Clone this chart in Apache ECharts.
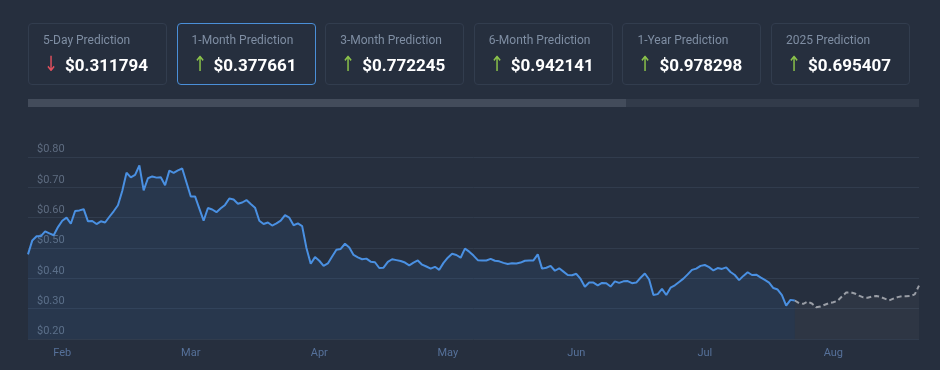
<!DOCTYPE html>
<html><head><meta charset="utf-8">
<script src="https://cdn.jsdelivr.net/npm/echarts@6/dist/echarts.min.js"></script>
<style>
html,body{margin:0;padding:0;width:940px;height:370px;background:#262f3e;overflow:hidden;font-family:Roboto,"Noto Sans",sans-serif;}
#chart{position:absolute;left:0;top:0;width:940px;height:370px;}
#cards{position:absolute;left:28px;top:23px;width:882px;height:62px;z-index:2;}
.card{position:absolute;top:0;width:139px;height:62px;box-sizing:border-box;border:1px solid #323d4e;border-radius:4px;}
.card.active{border-color:#4a8fd8;}
.card .t{position:absolute;left:14px;top:9px;font-size:12px;line-height:14px;color:#7f8ea3;white-space:nowrap;}
.card .a{position:absolute;left:15px;top:28px;font-size:21px;line-height:24px;font-family:"DejaVu Sans",sans-serif;transform:scaleX(0.8);transform-origin:left center;}
.card .a.up{color:#8bc34a;}
.card .a.down{color:#e2505e;}
.card .v{position:absolute;left:36px;top:31px;font-size:17px;line-height:20px;font-weight:700;color:#ffffff;white-space:nowrap;}
#track{position:absolute;left:28px;top:99px;width:891px;height:8px;background:#323b4a;z-index:2;}
#thumb{position:absolute;left:0;top:0;width:598px;height:8px;background:#434c5b;}
</style>
</head><body>
<div id="chart"></div>
<div id="cards"></div>
<div id="track"><div id="thumb"></div></div>
<script>
// Prediction cards
const cardTitles = ['5-Day Prediction','1-Month Prediction','3-Month Prediction','6-Month Prediction','1-Year Prediction','2025 Prediction'];
const cardValues = ['$0.311794','$0.377661','$0.772245','$0.942141','$0.978298','$0.695407'];
const cardDirections = ['down','up','up','up','up','up'];
const activeCard = 1;

// Chart data
const monthLabels = ['Feb','Mar','Apr','May','Jun','Jul','Aug'];
const actualValues = [
0.479,0.525,0.539,0.539,0.555,0.548,0.542,0.569,0.590,0.600,
0.580,0.622,0.624,0.628,0.588,0.589,0.579,0.588,0.584,0.603,
0.621,0.641,0.688,0.748,0.733,0.741,0.772,0.690,0.730,0.736,
0.732,0.733,0.707,0.755,0.748,0.756,0.762,0.716,0.670,0.670,
0.630,0.590,0.632,0.627,0.618,0.631,0.642,0.663,0.660,0.646,
0.650,0.658,0.645,0.633,0.590,0.579,0.584,0.574,0.581,0.590,
0.608,0.600,0.575,0.581,0.572,0.500,0.448,0.470,0.458,0.441,
0.449,0.472,0.494,0.497,0.514,0.502,0.477,0.469,0.463,0.465,
0.455,0.453,0.434,0.435,0.454,0.463,0.460,0.457,0.452,0.443,
0.452,0.459,0.445,0.439,0.432,0.438,0.428,0.451,0.468,0.481,
0.477,0.468,0.498,0.488,0.475,0.460,0.459,0.459,0.464,0.458,
0.456,0.451,0.447,0.450,0.449,0.452,0.458,0.459,0.459,0.479,
0.432,0.435,0.441,0.425,0.433,0.422,0.411,0.410,0.415,0.398,
0.372,0.386,0.386,0.377,0.385,0.384,0.373,0.390,0.385,0.390,
0.391,0.384,0.386,0.402,0.416,0.396,0.345,0.348,0.365,0.345,
0.369,0.377,0.388,0.399,0.413,0.428,0.432,0.441,0.444,0.437,
0.426,0.434,0.431,0.436,0.421,0.411,0.394,0.408,0.420,0.411,
0.412,0.403,0.395,0.386,0.368,0.363,0.345,0.310,0.329,0.327
];
const forecastValues = [
0.327,0.318,0.316,0.323,0.317,0.305,0.307,0.313,0.318,0.321,
0.326,0.340,0.353,0.354,0.350,0.343,0.337,0.336,0.340,0.342,
0.339,0.333,0.327,0.333,0.338,0.341,0.341,0.342,0.347,0.376
];

// build cards
const cardsEl = document.getElementById('cards');
cardTitles.forEach((t, i) => {
  const c = document.createElement('div');
  c.className = 'card' + (i === activeCard ? ' active' : '');
  c.style.left = (i * 148.6) + 'px';
  const dir = cardDirections[i];
  c.innerHTML = '<div class="t">' + t + '</div>' +
    '<div class="a ' + dir + '">' + (dir === 'up' ? '\u2191' : '\u2193') + '</div>' +
    '<div class="v">' + cardValues[i] + '</div>';
  cardsEl.appendChild(c);
});

// categories (daily)
const totalPoints = actualValues.length + forecastValues.length - 1;
const categories = [];
const startDate = new Date(Date.UTC(2024, 0, 24));
for (let i = 0; i < totalPoints; i++) {
  const d = new Date(startDate.getTime() + i * 86400000);
  categories.push(d.toISOString().slice(0, 10));
}
const firstLabelIdx = 8, labelStep = 30;
const forecastStart = actualValues.length - 1;
const forecastData = forecastValues.map((v, k) => [forecastStart + k, v]);

const chart = echarts.init(document.getElementById('chart'), null, {renderer: 'canvas'});
chart.setOption({
  backgroundColor: 'transparent',
  animation: false,
  grid: {left: 28, right: 21, top: 157, bottom: 31},
  xAxis: {
    type: 'category',
    data: categories,
    boundaryGap: false,
    axisLine: {show: false},
    axisTick: {show: false},
    splitLine: {show: false},
    axisLabel: {
      interval: (i) => i >= firstLabelIdx && (i - firstLabelIdx) % labelStep === 0,
      formatter: (val, idx) => monthLabels[Math.round((idx - firstLabelIdx) / labelStep)] || '',
      color: '#56719a',
      fontSize: 11,
      fontFamily: 'Roboto',
      margin: 9
    }
  },
  yAxis: {
    type: 'value',
    min: 0.2,
    max: 0.8,
    interval: 0.1,
    axisLine: {show: false},
    axisTick: {show: false},
    splitLine: {lineStyle: {color: '#313c4d', width: 1}},
    axisLabel: {
      inside: true,
      verticalAlign: 'bottom',
      margin: 9,
      padding: [0, 0, 2, 0],
      color: '#5e6c80',
      fontSize: 11,
      fontFamily: 'Roboto',
      formatter: (v) => '$' + v.toFixed(2)
    }
  },
  series: [
    {
      type: 'line',
      data: actualValues,
      showSymbol: false,
      lineStyle: {color: '#4a90e2', width: 2},
      itemStyle: {color: '#4a90e2'},
      areaStyle: {color: 'rgba(64,140,230,0.13)'},
      z: 3
    },
    {
      type: 'line',
      data: forecastData,
      showSymbol: false,
      lineStyle: {color: '#9a9ea6', width: 2, type: [5, 3]},
      itemStyle: {color: '#9a9ea6'},
      areaStyle: {color: 'rgba(150,150,160,0.1)'},
      z: 2
    }
  ]
});
</script>
</body></html>
